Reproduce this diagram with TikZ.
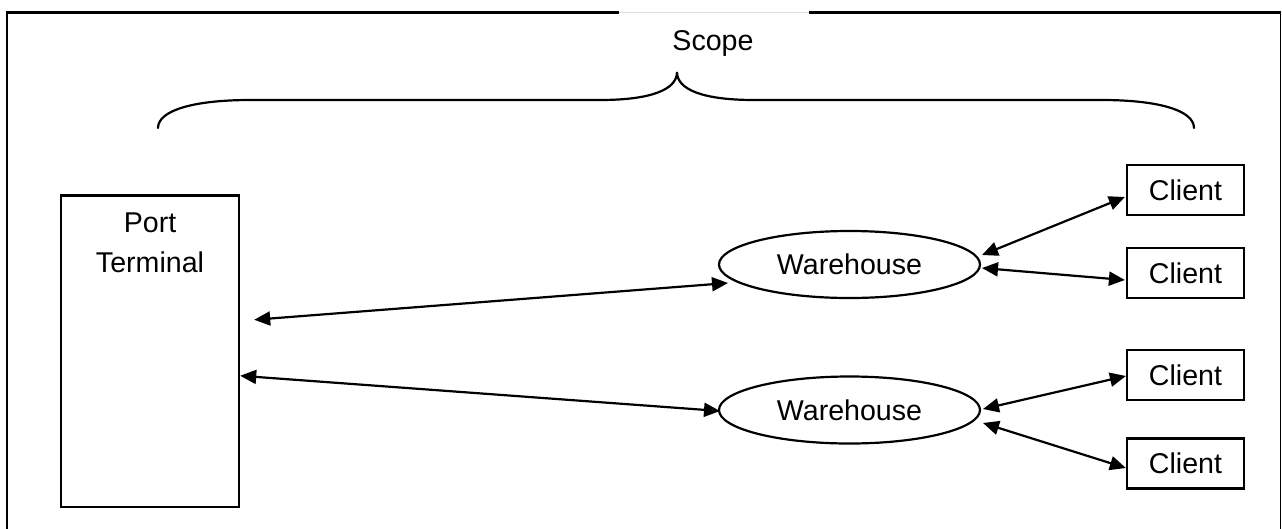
\documentclass[tikz,border=0pt]{standalone}
\usepackage{fontspec}
\setmainfont{Liberation Sans}
\usetikzlibrary{arrows.meta,shapes.geometric}

\begin{document}
\begin{tikzpicture}[x=1pt,y=-1pt,
    every node/.style={font=\fontsize{28.6pt}{40pt}\selectfont, inner sep=0pt},
    framestyle/.style={line width=2.4pt},
    bracestyle/.style={line width=2.2pt, line cap=round},
    portbox/.style={draw, line width=2.4pt, minimum width=178pt, minimum height=311.5pt},
    whouse/.style={draw, ellipse, line width=2.2pt, minimum width=261pt, minimum height=67pt},
    clientbox/.style={draw, line width=2.2pt, minimum width=117pt, minimum height=50pt},
    conn/.style={line width=2.2pt, {Triangle[length=16pt,width=14pt]}-{Triangle[length=16pt,width=14pt]}}]

  \useasboundingbox (0,0) rectangle (1282,528);
  \clip (0,0) rectangle (1282,528);

  % outer frame, open at the top behind the title
  \draw[framestyle] (7,540) -- (7,12.5) -- (619,12.5);
  \draw[framestyle] (809,12.5) -- (1280.5,12.5);
  \draw[line width=1.4pt] (1280.5,12.5) -- (1280.5,540);
  \draw[line width=0.8pt, black!13] (619,12.5) -- (809,12.5);

  % title and curly brace
  \node[anchor=base] (scope) at (713,50) {Scope};
  \draw[bracestyle] (158,128) .. controls (158,110) and (195,100) .. (250,100)
    -- (600,100) .. controls (650,100) and (677,90) .. (677,72)
    .. controls (677,90) and (704,100) .. (754,100)
    -- (1102,100) .. controls (1157,100) and (1194,110) .. (1194,128);

  % nodes
  \node[portbox] (port) at (150,351.25) {};
  % base of a two-line node is the baseline of its last line
  \node[anchor=base, align=center] (portlabel) at ([shift={(0,78.5)}]port.north) {Port\\Terminal};

  \node[whouse] (w1) at (849.5,264.5) {Warehouse};
  \node[whouse] (w2) at (849.5,410) {Warehouse};

  \node[clientbox] (c1) at (1185.5,190) {Client};
  \node[clientbox] (c2) at (1185.5,273) {Client};
  \node[clientbox] (c3) at (1185.5,375) {Client};
  \node[clientbox] (c4) at (1185.5,463.5) {Client};

  % connectors
  \draw[conn] ([shift={(14,-31.5)}]port.east) -- ([shift={(-121.5,18.5)}]w1.center);
  \draw[conn] ([shift={(0,24.5)}]port.east) -- ([shift={(-129.5,1)}]w2.center);
  \draw[conn] ([shift={(132.5,-9.5)}]w1.center) -- ([shift={(-1,7)}]c1.west);
  \draw[conn] ([shift={(132.5,3.5)}]w1.center) -- ([shift={(-1,7)}]c2.west);
  \draw[conn] ([shift={(133.5,-1)}]w2.center) -- ([shift={(0,1)}]c3.west);
  \draw[conn] ([shift={(133.5,13)}]w2.center) -- ([shift={(0,4.5)}]c4.west);
\end{tikzpicture}
\end{document}
